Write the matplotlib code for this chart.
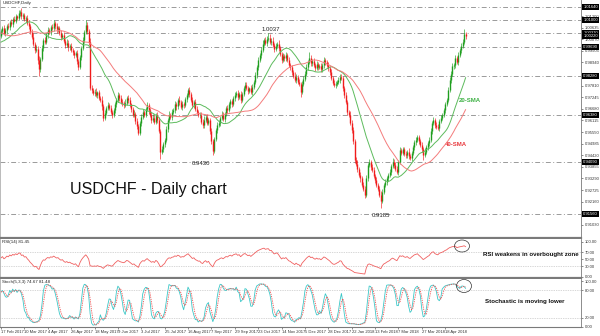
import numpy as np
import pandas as pd
import matplotlib
matplotlib.use("Agg")
import matplotlib.pyplot as plt
import matplotlib.transforms as mtransforms
from matplotlib.patches import Ellipse

plt.rcParams['font.family'] = ['Liberation Sans', 'DejaVu Sans']

# daily closes in pips (x 0.0001); 40 days of history feed the averages
pre_closes = [10180, 10165, 10172, 10150, 10138, 10145, 10120, 10105, 10112, 10090,
              10075, 10082, 10060, 10048, 10055, 10035, 10028, 10040, 10018, 10010,
              9995, 9978, 9985, 9962, 9970, 9990, 9975, 9958, 9968, 9985,
              10002, 9990, 9975, 9988, 10005, 10012, 9998, 10015, 10030, 10025]
closes = [
    10045, 10060, 10038, 10050, 10072, 10065, 10091, 10082, 10105, 10098, 10120, 10112, 10135, 10140, 10118, 10125,
    10105, 10110, 10088, 10070, 10042, 10020, 9985, 9954, 9960, 9905, 9860, 9912, 9965, 10003, 9995, 10030,
    10052, 10040, 10068, 10060, 10086, 10070, 10055, 10062, 10037, 10020, 10028, 9998, 9979, 9990, 9968, 9975,
    9955, 9945, 9930, 9938, 9900, 9871, 9920, 9965, 10003, 10040, 10076, 10045, 9995, 9770, 9760, 9745,
    9752, 9735, 9748, 9720, 9711, 9680, 9625, 9650, 9672, 9686, 9670, 9655, 9638, 9660, 9690, 9712,
    9735, 9720, 9702, 9695, 9686, 9698, 9720, 9711, 9690, 9665, 9638, 9645, 9610, 9585, 9552, 9600,
    9630, 9652, 9640, 9665, 9686, 9660, 9640, 9613, 9625, 9605, 9638, 9615, 9560, 9460, 9470, 9495,
    9516, 9570, 9613, 9640, 9630, 9655, 9662, 9690, 9680, 9711, 9700, 9675, 9690, 9686, 9715, 9735,
    9760, 9738, 9712, 9686, 9700, 9668, 9655, 9638, 9640, 9605, 9589, 9615, 9630, 9598, 9613, 9560,
    9510, 9465, 9520, 9565, 9589, 9600, 9625, 9638, 9620, 9645, 9670, 9662, 9690, 9705, 9690, 9720,
    9735, 9745, 9725, 9740, 9711, 9740, 9770, 9784, 9770, 9755, 9768, 9750, 9775, 9800, 9832, 9870,
    9905, 9930, 9955, 9985, 10003, 9990, 10010, 10015, 9995, 10000, 9979, 9960, 9975, 9985, 9964, 9935,
    9906, 9925, 9915, 9930, 9905, 9880, 9870, 9847, 9830, 9808, 9825, 9800, 9790, 9752, 9790, 9815,
    9840, 9870, 9895, 9915, 9890, 9900, 9880, 9866, 9885, 9870, 9876, 9860, 9880, 9905, 9896, 9880,
    9865, 9847, 9820, 9795, 9784, 9790, 9800, 9808, 9825, 9818, 9770, 9735, 9700, 9652, 9640, 9600,
    9565, 9510, 9420, 9400, 9375, 9345, 9330, 9297, 9280, 9250, 9330, 9394, 9410, 9385, 9370, 9340,
    9320, 9297, 9280, 9250, 9220, 9265, 9297, 9310, 9330, 9345, 9360, 9390, 9410, 9395, 9375, 9360,
    9410, 9467, 9455, 9470, 9450, 9443, 9460, 9438, 9428, 9455, 9480, 9505, 9516, 9530, 9510, 9492,
    9470, 9445, 9460, 9480, 9500, 9516, 9560, 9600, 9613, 9590, 9580, 9574, 9610, 9625, 9638, 9660,
    9690, 9711, 9760, 9808, 9840, 9875, 9881, 9915, 9896, 9930, 9954, 9975, 9995, 10032, 10022]

# wick lengths above / below the body, in pips
pre_wick_up = [12, 18, 9, 15, 22, 8, 14, 11, 19, 7, 16, 13, 21, 10, 6, 17, 12, 9, 20, 14,
               11, 16, 8, 23, 13, 10, 18, 7, 15, 12, 19, 9, 14, 21, 11, 6, 17, 13, 10, 16]
pre_wick_dn = [14, 8, 17, 11, 9, 20, 12, 15, 7, 18, 10, 13, 8, 22, 16, 9, 14, 19, 11, 12,
               9, 15, 21, 10, 13, 18, 8, 16, 12, 20, 7, 14, 11, 17, 9, 15, 13, 8, 19, 12]
wick_up = [
    14, 10, 18, 12, 8, 16, 11, 13, 9, 15, 12, 7, 14, 9, 17, 10,
    12, 8, 15, 11, 9, 13, 16, 10, 18, 12, 20, 9, 14, 11, 16, 8,
    13, 10, 7, 15, 14, 12, 18, 9, 11, 16, 8, 14, 10, 19, 12, 9,
    15, 11, 8, 13, 17, 10, 12, 9, 14, 11, 24, 16, 12, 20, 15, 10,
    12, 17, 9, 14, 11, 18, 13, 10, 8, 16, 12, 15, 9, 13, 11, 7,
    16, 10, 14, 12, 9, 17, 11, 13, 15, 8, 12, 18, 10, 14, 11, 9,
    13, 15, 10, 12, 16, 9, 14, 11, 18, 12, 8, 15, 13, 10, 17, 12,
    9, 14, 11, 16, 10, 13, 8, 15, 12, 10, 18, 11, 14, 9, 13, 12,
    9, 16, 11, 14, 10, 18, 12, 9, 15, 11, 13, 17, 8, 14, 10, 12,
    16, 11, 13, 9, 15, 12, 10, 18, 14, 8, 11, 16, 12, 10, 13, 9,
    15, 11, 14, 10, 17, 12, 9, 13, 16, 11, 8, 14, 12, 10, 15, 11,
    13, 9, 12, 16, 10, 14, 11, 22, 15, 12, 18, 10, 13, 9, 16, 12,
    11, 15, 10, 14, 12, 17, 9, 13, 11, 16, 12, 10, 15, 9, 13, 12,
    10, 14, 12, 29, 13, 11, 16, 9, 14, 12, 10, 15, 11, 13, 10, 12,
    14, 11, 16, 10, 13, 12, 9, 15, 11, 14, 12, 10, 17, 13, 11, 16,
    12, 15, 10, 14, 18, 11, 13, 9, 16, 12, 14, 11, 15, 10, 13, 17,
    11, 14, 12, 10, 16, 13, 9, 15, 12, 11, 14, 10, 18, 12, 15, 13,
    10, 16, 12, 14, 11, 13, 9, 15, 12, 10, 14, 11, 16, 12, 13, 10,
    14, 11, 15, 12, 10, 13, 16, 11, 14, 9, 12, 15, 10, 13, 11, 14,
    12, 10, 15, 13, 11, 16, 12, 14, 10, 13, 11, 15, 12, 24, 9]
wick_dn = [
    11, 15, 9, 13, 17, 10, 14, 12, 16, 8, 13, 11, 9, 15, 12, 14,
    10, 16, 12, 14, 9, 13, 11, 15, 10, 18, 32, 12, 9, 14, 11, 13,
    15, 9, 12, 10, 14, 11, 16, 13, 9, 15, 12, 10, 14, 11, 17, 12,
    10, 13, 15, 9, 12, 14, 11, 16, 10, 13, 9, 12, 15, 11, 14, 10,
    13, 9, 15, 11, 12, 16, 18, 10, 14, 12, 9, 13, 15, 11, 10, 14,
    11, 14, 10, 13, 15, 9, 12, 16, 11, 14, 10, 12, 15, 13, 12, 11,
    14, 10, 13, 11, 9, 15, 12, 14, 10, 13, 11, 16, 12, 37, 14, 10,
    13, 11, 15, 9, 12, 14, 10, 13, 16, 11, 12, 9, 14, 12, 10, 13,
    11, 14, 10, 12, 15, 9, 13, 11, 14, 10, 16, 12, 13, 9, 11, 15,
    12, 22, 14, 10, 13, 11, 15, 9, 12, 14, 10, 13, 11, 16, 12, 10,
    14, 11, 13, 9, 15, 12, 10, 14, 11, 13, 12, 9, 15, 11, 10, 13,
    12, 10, 14, 11, 13, 9, 15, 12, 10, 14, 11, 13, 9, 12, 15, 11,
    13, 10, 12, 14, 11, 9, 15, 12, 13, 10, 14, 11, 12, 27, 10, 13,
    11, 14, 12, 10, 13, 15, 9, 12, 11, 14, 10, 13, 12, 11, 15, 10,
    12, 14, 11, 13, 10, 15, 12, 9, 14, 11, 13, 12, 10, 15, 11, 13,
    14, 12, 15, 10, 13, 11, 16, 12, 14, 17, 11, 13, 10, 15, 12, 11,
    13, 10, 14, 12, 35, 11, 13, 10, 15, 12, 11, 14, 10, 13, 12, 11,
    14, 12, 10, 13, 11, 15, 12, 14, 10, 13, 11, 12, 14, 10, 13, 12,
    11, 26, 13, 10, 14, 12, 11, 15, 10, 13, 12, 11, 14, 10, 12, 11,
    13, 10, 12, 11, 14, 10, 13, 12, 11, 14, 10, 12, 11, 13, 15]

date_labels = ["17 Feb 2017", "10 Mar 2017", "4 Apr 2017", "26 Apr 2017", "18 May 2017",
               "9 Jun 2017", "3 Jul 2017", "25 Jul 2017", "16 Aug 2017", "7 Sep 2017",
               "29 Sep 2017", "23 Oct 2017", "14 Nov 2017", "5 Dec 2017", "28 Dec 2017",
               "22 Jan 2018", "13 Feb 2018", "7 Mar 2018", "27 Mar 2018", "18 Apr 2018"]
level_prices = [1.0164, 1.0100, 1.0037, 0.9969, 0.9828, 0.9638, 0.9409, 0.9156]
price_ticks = [1.01200, 1.00635, 1.00070, 0.99505, 0.98940, 0.98375, 0.97810, 0.97245,
               0.96680, 0.96115, 0.95550, 0.94985, 0.94420, 0.93855, 0.93290, 0.92725,
               0.92160, 0.91595, 0.91030]

GREEN = '#1f9e1f'
RED = '#f01c1c'
GRID = '#9a9a9a'
FRAME = '#7a7a7a'

close = np.array(pre_closes + closes) / 10000.0
open_ = np.r_[close[0], close[:-1]]
high = np.maximum(open_, close) + np.array(pre_wick_up + wick_up) / 10000.0
low = np.minimum(open_, close) - np.array(pre_wick_dn + wick_dn) / 10000.0
x = np.arange(len(close)) - len(pre_closes)
vis = x >= 0

s = pd.Series(close)
sma20 = s.rolling(20).mean().values
sma40 = s.rolling(40).mean().values
delta = s.diff()
gain = delta.clip(lower=0).ewm(alpha=1 / 14, adjust=False).mean()
loss = (-delta.clip(upper=0)).ewm(alpha=1 / 14, adjust=False).mean()
rsi = (100 - 100 / (1 + gain / loss)).values
hh = pd.Series(high).rolling(5).max()
ll = pd.Series(low).rolling(5).min()
stk = ((s - ll).rolling(3).sum() / (hh - ll).rolling(3).sum() * 100)
std = stk.rolling(3).mean()
stk, std = stk.values, std.values

fig = plt.figure(figsize=(6, 3.36), dpi=100)
W = 581 / 600
ax = fig.add_axes([0, 1 - 238 / 336, W, 238 / 336])
ax_r = fig.add_axes([0, 1 - 278 / 336, W, 39 / 336])
ax_s = fig.add_axes([0, 1 - 327 / 336, W, 48 / 336])
XMIN, XMAX = -0.7, 397

# ---- price panel
for p in level_prices:
    ax.axhline(p, color=GRID, lw=0.7, ls=(0, (5, 2.5, 1, 2.5)), zorder=1)
bull = close >= open_
for mask, col in ((bull & vis, GREEN), (~bull & vis, RED)):
    ax.vlines(x[mask], low[mask], high[mask], color=col, lw=0.45, zorder=3)
    ax.vlines(x[mask], np.minimum(open_, close)[mask], np.maximum(open_, close)[mask],
              color=col, lw=1.0, zorder=3)
ax.plot(x[vis], sma20[vis], color='#5dbb5d', lw=0.7, zorder=4)
ax.plot(x[vis], sma40[vis], color='#f47c7c', lw=0.7, zorder=4)
ax.set_xlim(XMIN, XMAX)
ax.set_ylim(0.9039, 1.0198)
ax.set_xticks([])
ax.yaxis.tick_right()
ax.set_yticks(price_ticks)
ax.set_yticklabels([f"{p:.5f}" for p in price_ticks])
ax.tick_params(axis='y', labelsize=3, length=1.5, width=0.4, pad=1, colors='#333333')
blend = mtransforms.blended_transform_factory(ax.transAxes, ax.transData)
for p in level_prices + [close[-1]]:
    ax.text(1.004, p, f"{p:.5f}", transform=blend, fontsize=3, color='white', va='center',
            ha='left', bbox=dict(boxstyle='square,pad=0.2', fc='black', ec='none'), zorder=6)

ax.text(0.004, 0.995, "USDCHF,Daily", transform=ax.transAxes, fontsize=3.2, va='top', color='#222222')
ax.text(185, 1.0052, "1.0037", fontsize=4.3, ha='center', va='center', color='#222222')
ax.text(137, 0.9404, "0.9430", fontsize=4.3, ha='center', va='center', color='#222222')
ax.text(260, 0.9151, "0.9185", fontsize=4.3, ha='center', va='center', color='#222222')
ax.text(47.3, 0.9277, "USDCHF - Daily chart", fontsize=11.5, ha='left', va='center', color='#111111')
ax.text(321, 0.9711, "20-SMA", fontsize=4.3, ha='center', va='center', color='#3cb043', weight='bold')
ax.text(311.6, 0.9492, "40-SMA", fontsize=4.3, ha='center', va='center', color='#e8383d', weight='bold')

# ---- RSI panel
for lv in (70, 30):
    ax_r.axhline(lv, color='#b0b0b0', lw=0.5, ls=(0, (1, 1.5)))
ax_r.plot(x[vis], rsi[vis], color='#f06060', lw=0.6)
ax_r.set_xlim(XMIN, XMAX)
ax_r.set_ylim(-3.7, 107.7)
ax_r.set_xticks([])
ax_r.yaxis.tick_right()
ax_r.set_yticks([100, 70, 50, 30, 0])
ax_r.set_yticklabels(["100.00", "70.00", "50.00", "30.00", "0.00"])
ax_r.tick_params(axis='y', labelsize=3, length=1.5, width=0.4, pad=1, colors='#333333')
ax_r.text(0.004, 0.97, "RSI(14) 81.45", transform=ax_r.transAxes, fontsize=3.2, va='top', color='#222222')
ax_r.text(330, 62, "RSI weakens in overbought zone", fontsize=4.4, weight='bold', va='center', color='#111111')

# ---- Stochastic panel
for lv in (80, 20):
    ax_s.axhline(lv, color='#b0b0b0', lw=0.5, ls=(0, (1, 1.5)))
ax_s.plot(x[vis], stk[vis], color='#3cc8c8', lw=0.6)
ax_s.plot(x[vis], std[vis], color='#f05050', lw=0.6, ls=(0, (1.5, 1.2)))
ax_s.set_xlim(XMIN, XMAX)
ax_s.set_ylim(-0.7, 104.4)
ax_s.yaxis.tick_right()
ax_s.set_yticks([100, 80, 20, 0])
ax_s.set_yticklabels(["100.00", "80.00", "20.00", "0.00"])
ax_s.tick_params(axis='y', labelsize=3, length=1.5, width=0.4, pad=1, colors='#333333')
ax_s.set_xticks(np.arange(len(date_labels)) * 16)
ax_s.set_xticklabels(date_labels)
ax_s.tick_params(axis='x', labelsize=3, length=1.5, width=0.4, pad=0.8, colors='#333333')
for lab in ax_s.get_xticklabels():
    lab.set_ha('left')
ax_s.text(0.004, 0.985, "Stoch(5,3,3) 74.67 81.48", transform=ax_s.transAxes, fontsize=3.2,
          va='top', color='#222222')
ax_s.text(331, 56, "Stochastic is moving lower", fontsize=4.4, weight='bold', va='center', color='#111111')

for a in (ax, ax_r, ax_s):
    a.set_facecolor('white')
    a.spines['top'].set_visible(False)
    a.spines['left'].set_color('#b0b0b0')
    a.spines['left'].set_linewidth(0.6)
    a.spines['right'].set_color(FRAME)
    a.spines['right'].set_linewidth(0.6)
ax.spines['bottom'].set_color(FRAME)
ax.spines['bottom'].set_linewidth(1.6)
ax_r.spines['bottom'].set_color(FRAME)
ax_r.spines['bottom'].set_linewidth(1.6)
ax_s.spines['bottom'].set_color(FRAME)
ax_s.spines['bottom'].set_linewidth(0.8)

# circles around the latest readings
for cx, cy, w, h in ((462, 246, 15, 12), (464, 286, 15, 13)):
    fig.add_artist(Ellipse((cx / 600, 1 - cy / 336), w / 600, h / 336,
                           transform=fig.transFigure, fill=False, lw=0.5, color='#333333'))

fig.savefig("out.png", dpi=100)
